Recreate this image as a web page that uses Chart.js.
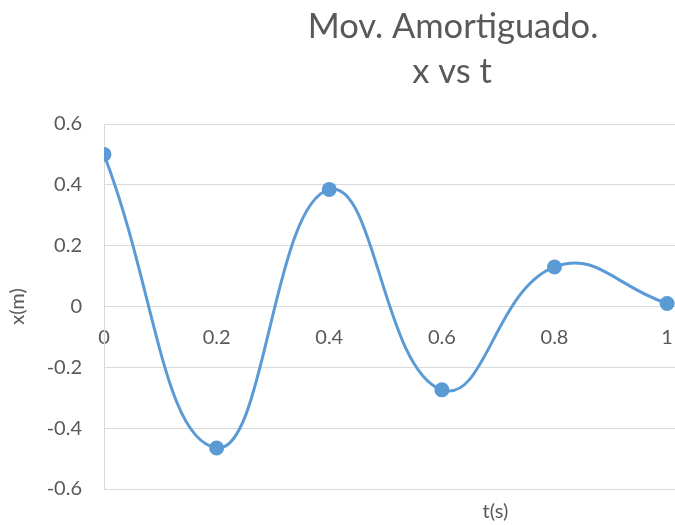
<!DOCTYPE html>
<html>
<head>
<meta charset="utf-8">
<script src="https://cdn.jsdelivr.net/npm/chart.js@4"></script>
<style>
    html, body { margin: 0; padding: 0; background: #ffffff; }
    #wrap { width: 675px; height: 525px; }
</style>
</head>
<body>
<div id="wrap"><canvas id="chart" width="675" height="525"></canvas></div>
<script>
// 데이터
const timeValues = [0, 0.2, 0.4, 0.6, 0.8, 1];
const positionValues = [0.5, -0.465, 0.385, -0.274, 0.13, 0.01];
const xTickValues = [0, 0.2, 0.4, 0.6, 0.8, 1];
const yTickValues = [-0.6, -0.4, -0.2, 0, 0.2, 0.4, 0.6];
const titleLines = ['Mov. Amortiguado.', 'x vs t'];
const xAxisTitle = 't(s)';
const yAxisTitle = 'x(m)';

const textColor = '#595959';
const gridColor = '#d9d9d9';
const lineColor = '#5b9bd5';
const fontFamily = 'Lato, "Open Sans", sans-serif';

// 제목과 x축 제목은 직접 그림 (원본에서 가운데 정렬이 아님)
const textPlugin = {
    id: 'textPlugin',
    afterDraw(chart) {
        const ctx = chart.ctx;
        const xScale = chart.scales.x;
        ctx.save();
        ctx.fillStyle = textColor;
        ctx.textAlign = 'center';

        ctx.font = '34.5px ' + fontFamily;
        ctx.textBaseline = 'alphabetic';
        ctx.fillText(titleLines[0], 453, 38);
        ctx.fillText(titleLines[1], 452, 83);

        ctx.font = '20px ' + fontFamily;
        ctx.textBaseline = 'middle';
        ctx.fillText(xAxisTitle, xScale.getPixelForValue(0.695), chart.chartArea.bottom + 23);
        ctx.restore();
    }
};

const points = timeValues.map((t, i) => ({ x: t, y: positionValues[i] }));

new Chart(document.getElementById('chart').getContext('2d'), {
    type: 'line',
    data: {
        datasets: [{
            data: points,
            borderColor: lineColor,
            backgroundColor: lineColor,
            borderWidth: 3,
            tension: 0.45,
            pointRadius: 6,
            pointHoverRadius: 6,
            fill: false
        }]
    },
    options: {
        responsive: false,
        animation: false,
        layout: {
            autoPadding: false,
            padding: { left: 0, right: 0, top: 124, bottom: 36 }
        },
        plugins: {
            legend: { display: false },
            tooltip: { enabled: false },
            title: { display: false }
        },
        scales: {
            x: {
                type: 'linear',
                position: { y: 0 },
                min: 0,
                max: 1.014,
                afterBuildTicks: scale => {
                    scale.ticks = xTickValues.map(v => ({ value: v }));
                },
                afterFit: scale => {
                    scale.paddingLeft = 0;
                    scale.paddingRight = 0;
                },
                grid: { display: false, drawTicks: false },
                border: { display: true, color: gridColor, width: 1 },
                ticks: {
                    color: textColor,
                    font: { family: fontFamily, size: 20 },
                    padding: 19,
                    maxRotation: 0,
                    autoSkip: false,
                    callback: value => String(value)
                }
            },
            y: {
                min: -0.6,
                max: 0.6,
                afterBuildTicks: scale => {
                    scale.ticks = yTickValues.map(v => ({ value: v }));
                },
                afterFit: scale => {
                    scale.width = 104;
                },
                grid: { color: gridColor, lineWidth: 1, drawTicks: false },
                border: { display: true, color: gridColor, width: 1 },
                title: {
                    display: true,
                    text: yAxisTitle,
                    color: textColor,
                    font: { family: fontFamily, size: 20 },
                    padding: { top: 6, bottom: 0 }
                },
                ticks: {
                    color: textColor,
                    font: { family: fontFamily, size: 20 },
                    padding: 22,
                    callback: value => String(Math.round(value * 10) / 10)
                }
            }
        }
    },
    plugins: [textPlugin]
});
</script>
</body>
</html>
